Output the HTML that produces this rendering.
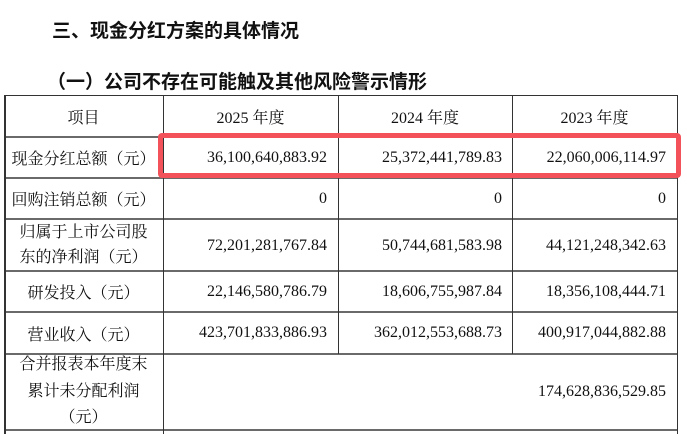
<!DOCTYPE html>
<html><head><meta charset="utf-8">
<style>
html,body{margin:0;padding:0;background:#fff;}
body{width:687px;height:434px;position:relative;overflow:hidden;}
.t{position:absolute;white-space:nowrap;font-family:"Liberation Sans","Noto Sans CJK SC",sans-serif;font-weight:bold;font-size:19px;color:#111;line-height:19px;}
.c{position:absolute;font-family:"Liberation Serif","Noto Serif CJK SC",serif;font-size:16px;color:#111;display:flex;align-items:center;white-space:nowrap;}
.ctr{justify-content:center;text-align:center;}
.r{justify-content:flex-end;}
.h{position:absolute;height:2px;left:4px;width:674px;background:#6a6a6a;}
.v{position:absolute;width:1px;background:#333;}
</style></head><body>
<div class="t" style="left:52px;top:22px;">三、现金分红方案的具体情况</div>
<div class="t" style="left:47px;top:73px;">（一）公司不存在可能触及其他风险警示情形</div>

<!-- borders -->
<div style="position:absolute;left:4px;top:95px;width:674px;height:1px;background:#333;"></div>
<div class="h" style="top:136px;"></div>
<div class="h" style="top:177px;"></div>
<div class="h" style="top:218px;"></div>
<div class="h" style="top:270px;"></div>
<div class="h" style="top:311px;"></div>
<div class="h" style="top:353px;"></div>
<div class="h" style="top:429px;"></div>
<div class="v" style="left:4px;top:95px;height:339px;width:2px;"></div>
<div class="v" style="left:677px;top:95px;height:339px;"></div>
<div class="v" style="left:163px;top:95px;height:339px;"></div>
<div class="v" style="left:338px;top:95px;height:259px;"></div>
<div class="v" style="left:512px;top:95px;height:259px;"></div>

<!-- header -->
<div class="c ctr" style="left:4px;top:96px;width:159px;height:41px;">项目</div>
<div class="c ctr" style="left:163px;top:96px;width:175px;height:41px;">2025 年度</div>
<div class="c ctr" style="left:338px;top:96px;width:174px;height:41px;">2024 年度</div>
<div class="c ctr" style="left:512px;top:96px;width:165px;height:41px;">2023 年度</div>

<!-- row1 -->
<div class="c ctr" style="left:4px;top:137px;width:159px;height:41px;">现金分红总额（元）</div>
<div class="c r" style="left:163px;top:137px;width:164px;height:41px;">36,100,640,883.92</div>
<div class="c r" style="left:338px;top:137px;width:164px;height:41px;">25,372,441,789.83</div>
<div class="c r" style="left:512px;top:137px;width:154px;height:41px;">22,060,006,114.97</div>

<!-- row2 -->
<div class="c ctr" style="left:4px;top:178px;width:159px;height:41px;">回购注销总额（元）</div>
<div class="c r" style="left:163px;top:178px;width:164px;height:41px;">0</div>
<div class="c r" style="left:338px;top:178px;width:164px;height:41px;">0</div>
<div class="c r" style="left:512px;top:178px;width:154px;height:41px;">0</div>

<!-- row3 -->
<div class="c ctr" style="left:4px;top:219px;width:159px;height:52px;line-height:25px;">归属于上市公司股<br>东的净利润（元）</div>
<div class="c r" style="left:163px;top:220px;width:164px;height:52px;">72,201,281,767.84</div>
<div class="c r" style="left:338px;top:220px;width:164px;height:52px;">50,744,681,583.98</div>
<div class="c r" style="left:512px;top:220px;width:154px;height:52px;">44,121,248,342.63</div>

<!-- row4 -->
<div class="c ctr" style="left:4px;top:271px;width:159px;height:41px;">研发投入（元）</div>
<div class="c r" style="left:163px;top:271px;width:164px;height:41px;">22,146,580,786.79</div>
<div class="c r" style="left:338px;top:271px;width:164px;height:41px;">18,606,755,987.84</div>
<div class="c r" style="left:512px;top:271px;width:154px;height:41px;">18,356,108,444.71</div>

<!-- row5 -->
<div class="c ctr" style="left:4px;top:312px;width:159px;height:42px;">营业收入（元）</div>
<div class="c r" style="left:163px;top:312px;width:164px;height:42px;">423,701,833,886.93</div>
<div class="c r" style="left:338px;top:312px;width:164px;height:42px;">362,012,553,688.73</div>
<div class="c r" style="left:512px;top:312px;width:154px;height:42px;">400,917,044,882.88</div>

<!-- row6 -->
<div class="c ctr" style="left:4px;top:354px;width:159px;height:76px;line-height:26.5px;">合并报表本年度末<br>累计未分配利润<br>（元）</div>
<div class="c r" style="left:512px;top:354px;width:154px;height:76px;">174,628,836,529.85</div>

<!-- red highlight -->
<div style="position:absolute;left:158px;top:133px;width:513px;height:35px;border:5px solid #f4525a;border-radius:4px;"></div>
</body></html>
